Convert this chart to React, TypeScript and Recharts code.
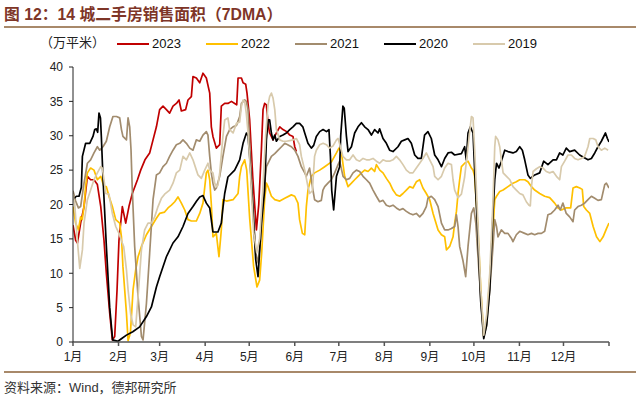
import React from "react"
import { LineChart, Line, XAxis, YAxis } from "recharts"

// day of year (0 = Jan 1), value in 万平米
const s2023: [number, number][] = [
  [0, 17], [1.8, 14.8], [3, 14.4], [5.2, 17.3], [7.5, 19.7], [9.8, 24.1], [12, 23.6], [14.3, 23.6],
  [16.6, 22.9], [18.9, 19.7], [21.1, 14.8], [22.7, 10], [25, 4.2], [26.8, 0.3], [28.4, 0.8], [30, 7.6],
  [31.3, 14.8], [33.6, 19.7], [35.9, 17.3], [38.1, 19.7], [40.4, 21.6], [43.9, 23.6], [46.1, 25],
  [49, 26.5], [52.2, 27.5], [54.5, 29.4], [56.8, 31.3], [59, 33.8], [61.3, 34.3], [63.6, 33.8],
  [65.8, 33.3], [68.1, 34.3], [70.4, 34.7], [72.2, 35.2], [73.8, 33.6], [76.7, 33.8], [78.3, 35.2],
  [80.6, 35.7], [81.7, 38.6], [84, 38.4], [86.3, 37.7], [88.5, 39.1], [90.8, 38.4], [93.1, 36.2],
  [94.2, 31.3], [95.3, 29.9], [97.6, 28.2], [99.9, 28.7], [101, 34.3], [103.3, 34.7], [105.5, 34.7],
  [107.9, 35], [110.1, 34.7], [111.5, 34.5], [112.4, 38.4], [114.7, 38.4], [115.8, 37.7], [117.6, 37.5],
  [118.5, 36.2], [120.3, 32.3], [122.4, 24], [124.9, 16.3], [126.5, 20], [128.3, 28], [129.4, 33.8],
  [130.5, 34.7], [131.7, 34.5], [132.8, 31.8], [133.9, 30.4], [136.2, 29.4], [138.5, 30.4], [140.8, 31.3],
  [143, 30.9], [145.5, 30.6], [147.6, 30.1], [149.8, 29.9], [151, 28.4], [152.1, 27.7],
]

const s2022: [number, number][] = [
  [0, 19.7], [1.8, 17.3], [3.7, 16.3], [5.2, 18.2], [6.3, 17.8], [7.5, 19.7], [8.6, 22.6], [9.8, 24.6],
  [12, 25.3], [14.3, 25], [16.6, 23.6], [18.9, 24.1], [21.1, 22.6], [22.7, 22.6], [24.5, 21.2],
  [26.8, 19.7], [29.1, 17.8], [31.8, 17.3], [33, 15.3], [34, 11], [36.4, 4.2], [37.5, 0.2], [39.1, 1.3],
  [40.9, 7.6], [42.7, 10.5], [44.3, 12.4], [46.6, 13.9], [50, 15.6], [53.4, 16.8], [56.8, 18], [59, 18.7],
  [62.4, 18.9], [64.7, 19.5], [67, 19.9], [69.3, 20.4], [71.5, 21.1], [73.8, 20.2], [76.1, 19.2],
  [78.3, 17.8], [80.6, 17.6], [84, 17.6], [86.3, 18.7], [88.5, 20.2], [89.7, 22.5], [90.8, 24.6],
  [91.9, 25], [93.1, 23.6], [94.2, 20], [95.3, 15.3], [97.6, 15.8], [99.4, 12.4], [101, 16.3],
  [102.1, 20.7], [104.5, 20.5], [109, 20.7], [112.4, 21.6], [113.5, 24.1], [114.7, 25.5], [116.9, 26.5],
  [118.3, 25], [120.3, 18], [123, 11], [125.3, 8], [127.1, 9], [128.5, 13], [130.5, 20.7], [131.7, 23.1],
  [132.8, 22.6], [135.1, 21.2], [137.4, 20.7], [140.8, 20.5], [144.2, 20.9], [148.7, 21.4], [151, 21.2],
  [153.2, 20.2], [154.3, 17.8], [156.2, 15.8], [157.8, 15.6], [158.9, 19.7], [160, 22.1], [162.3, 24.1],
  [164.5, 24.6], [168, 25], [171.4, 25.5], [176, 26.2], [179.4, 27.5], [181.1, 28.2], [182.8, 27.5],
  [185, 24.1], [187.3, 22.6], [189.6, 23.1], [191.8, 23.6], [194.1, 24.1], [196.4, 24.6], [198.6, 25],
  [200.9, 24.8], [203.2, 25.3], [205.4, 24.8], [206.6, 25.8], [208.9, 25], [211.1, 24.6], [213.4, 23.8],
  [215.7, 23.1], [217.9, 22.1], [220.2, 21.4], [222.5, 21.2], [224.7, 21.6], [227, 22.1], [229.3, 22.6],
  [231.5, 22.4], [233.8, 23.3], [236.1, 23.6], [238.3, 22.4], [240.6, 21.6], [242.9, 20.7], [245.2, 18.7],
  [248.6, 16.3], [250.9, 15.6], [253.1, 15.3], [254.3, 13.4], [256.5, 13.9], [258.8, 15.3], [259.9, 17.3],
  [261.1, 19], [262.2, 21.6], [263.3, 23.6], [264.5, 25.5], [266.7, 26], [269, 26.3], [271.3, 25.3],
  [272.4, 25], [273.5, 24.1], [275.6, 17], [277.6, 8], [279.7, 0.8], [281.7, 3], [284.9, 12.4],
  [287.2, 20.7], [288.4, 21.2], [290.6, 21.9], [292.9, 22.1], [296.2, 22.6], [299.6, 23.1], [301.9, 23.3],
  [304.2, 23.6], [307.6, 23.6], [309.8, 23.3], [312.2, 22.6], [314.4, 22.1], [317.8, 21.6], [321.2, 21.2],
  [324.6, 21], [328, 20.2], [330.3, 19.5], [332.6, 19.2], [335.5, 19.5], [338.9, 19.5], [340.5, 22.4],
  [342.8, 22.6], [345.1, 22.4], [346.8, 22.2], [347.8, 19.7], [349.6, 19.2], [351.9, 18.7], [354.2, 16.8],
  [356.5, 15.3], [358.8, 14.6], [361, 15.3], [363.3, 16.5], [365, 17.3],
]

const s2021: [number, number][] = [
  [0, 22], [1.8, 20.5], [3.7, 19.5], [5.2, 19.7], [7.5, 23.1], [9.8, 26], [12, 26.5], [14.3, 27.5],
  [16.6, 28.4], [18.2, 27.9], [20.4, 28.4], [22.7, 29.2], [25, 31.3], [27.2, 32.8], [29.6, 32.8],
  [31.8, 32.6], [33, 30.9], [34, 29.9], [36.4, 29.4], [37.5, 32.6], [38.6, 31.3], [39.5, 28], [40.3, 22.6],
  [42, 13.9], [44.3, 6.6], [46.6, 0.8], [47.7, 0.3], [50, 5.6], [52.2, 12.9], [54.5, 20.7], [56.8, 24.3],
  [59, 24.6], [61.3, 25.5], [63.6, 26], [65.8, 27], [68.1, 27.9], [70.4, 28.7], [72.7, 28.9], [74.9, 29.4],
  [77.2, 28.9], [79.5, 28.2], [81.7, 27.9], [84, 29.4], [86.3, 29.2], [88.5, 30.1], [90.8, 30.6],
  [91.9, 30.1], [93.1, 27], [94.2, 24.6], [95.3, 23.1], [96.5, 22.1], [97.6, 22.4], [99.9, 24.1],
  [102.1, 27], [104.5, 29.9], [106.7, 30.9], [109, 31.3], [111.3, 31.5], [113.5, 32.8], [114.7, 34.7],
  [116.9, 35.2], [118, 35], [119.2, 33.8], [120.3, 28.9], [122.4, 20], [124.4, 13], [126.1, 11.5],
  [127.8, 15], [129.9, 22], [131.7, 25.5], [135.1, 27], [137.4, 27.4], [139.7, 27.9], [142, 28.4],
  [144.2, 28.9], [146.2, 28.7], [148.7, 28.4], [151, 27.9], [153.2, 27], [155.5, 25.5], [157.8, 24.6],
  [158.9, 24.1], [161.1, 25.3], [163.4, 22.1], [164.5, 20.7], [166.8, 20.4], [169.1, 20.6], [170.2, 22.1],
  [171.4, 22.6], [173.6, 23.1], [175.9, 23.6], [178.2, 24.6], [180.5, 25.8], [181.6, 26.3], [183.9, 24.1],
  [186.2, 23.6], [188.4, 23.8], [190.7, 24.6], [193, 25], [195.2, 24.8], [197.5, 24.1], [199.8, 23.6],
  [202, 23.1], [204.3, 22.1], [206.6, 21.2], [208.8, 20.4], [211.1, 20.6], [213.4, 19.9], [215.6, 19.7],
  [217.9, 19.9], [220.2, 19.5], [222.4, 19.2], [224.7, 19.4], [227, 19], [229.3, 18.7], [231.5, 18.5],
  [233.8, 18.7], [236.1, 18.2], [238.3, 18.7], [240.6, 19.7], [241.7, 20.9], [244, 21.2], [246.3, 20.7],
  [248.6, 19.7], [250.9, 17.3], [253.1, 16.3], [255.4, 16.3], [257.7, 16.5], [259.9, 16.8], [261.1, 18.5],
  [262.2, 16.8], [263.3, 13.9], [265.5, 11.9], [267.4, 9.5], [269, 13.9], [271.3, 18.7], [272.9, 19.5],
  [274.3, 17.3], [275.8, 12.4], [278.1, 5.1], [279.7, 0.8], [281.5, 2.2], [283.8, 7.6], [286, 13.9],
  [287.2, 17.8], [288.4, 16.8], [289.4, 15.3], [291.7, 16.3], [294, 15.8], [296.2, 15.8], [298.5, 15.1],
  [299.6, 14.6], [301.9, 15.6], [304.2, 16.1], [307.6, 15.8], [309.8, 15.6], [312.2, 15.8], [314.4, 15.6],
  [316.7, 15.8], [319, 15.8], [321.2, 16.1], [322.3, 17.3], [323.4, 18.5], [325.7, 18.7], [328, 19.2],
  [330.3, 19.9], [331.8, 19.2], [333.6, 20.2], [335.9, 18.7], [338.2, 18.2], [340.5, 17.5], [341.6, 19.2],
  [343.9, 19.7], [346.2, 19.9], [348.4, 20.2], [350.7, 20.7], [353, 21.2], [355.3, 20.9], [357.5, 20.6],
  [359.8, 20.7], [362.1, 22.9], [363.2, 23.1], [365, 22.4],
]

const s2020: [number, number][] = [
  [0, 20.7], [2.3, 21.2], [4.1, 21.2], [5.7, 22.5], [6.4, 27], [8.6, 28.9], [11.4, 28.9], [13.6, 29.9],
  [14.8, 30.9], [15.9, 31], [16.8, 30.5], [17.7, 33.3], [18.7, 32.6], [19.3, 29.9], [20.4, 24], [22.7, 14],
  [25, 5], [27, 0.3], [30.6, 0.1], [33.2, 0.5], [36.4, 1], [40.7, 1.5], [45.4, 2.2], [50, 3.7], [53.4, 5.1],
  [56.8, 8], [59, 9.5], [63.6, 12.4], [68.1, 14.4], [71.5, 15.3], [74.9, 16.8], [78.3, 18.7], [81.7, 19.7],
  [84.2, 20.5], [86.3, 21.1], [88.5, 21.3], [90.8, 20.2], [93.1, 19.5], [95.3, 16], [98.7, 16], [101, 17.3],
  [102.1, 19.5], [103.3, 21.6], [105.5, 24], [110.1, 25], [113.5, 26.5], [115.8, 28.9], [118.1, 30.4],
  [119.2, 30], [120.3, 27], [122.4, 20], [124.4, 12], [126, 9.5], [128.3, 17.3], [130.5, 22.1],
  [131.7, 29.4], [132.9, 32.3], [133.9, 32.3], [135.1, 30.4], [136.2, 29.4], [137.4, 30.1], [138.5, 29.2],
  [140.8, 29.9], [143, 30.1], [145.3, 30.4], [147.6, 30.9], [149.8, 31.3], [152.1, 31.8], [154.3, 31.8],
  [156.5, 31.3], [157.8, 30.4], [160, 28.9], [162.3, 28.2], [163.9, 28.6], [165.7, 29.9], [168, 30.6],
  [170.3, 30.9], [172.6, 30.6], [174.3, 30.9], [175.3, 27], [176.2, 22], [177.5, 19.2], [179.4, 24.1],
  [181.6, 25.5], [182.3, 30], [183.8, 34.3], [184.7, 34], [186.2, 29.9], [187.3, 27.7], [189.6, 28.4],
  [191.8, 30.4], [194.1, 31.3], [196.4, 31.9], [198.6, 31.3], [200.9, 30.9], [203.2, 30.1], [205.4, 30.9],
  [207.7, 30.4], [208.8, 31], [211.1, 29.6], [213.4, 28.9], [215.6, 27.9], [217.9, 27.7], [221.3, 28.4],
  [223.6, 29.2], [225.9, 29.4], [228.1, 29.6], [230.4, 28.9], [232.7, 27.2], [234.9, 26.7], [237.2, 26.7],
  [239.4, 30.1], [241.7, 30.6], [244, 29.6], [246.3, 27.2], [248.6, 26.5], [250.9, 25.5], [253.1, 26.7],
  [255.4, 27.5], [257.7, 27.6], [259.9, 27.2], [264.5, 27.4], [266.7, 28.4], [267.8, 26.5], [269, 30.4],
  [270.6, 31.3], [272.4, 30.4], [273.5, 25], [275.6, 16], [277.6, 6], [279.7, 0.5], [281.7, 2.5],
  [283.8, 7.6], [286, 18.8], [287.2, 23.6], [288.4, 26], [290.1, 25.3], [291.7, 26.3], [294, 27.9],
  [296.2, 27.7], [299.6, 27.5], [301.9, 27.7], [304.2, 28.4], [306, 27.9], [307.6, 26.5], [309.8, 24.3],
  [311.4, 23.8], [314.4, 24.3], [317.8, 24.6], [320.5, 26.3], [323.4, 25.8], [326.9, 26.5], [329.2, 26.5],
  [331.4, 27.5], [333.6, 27.2], [335.9, 28.2], [338.2, 27.7], [341.6, 27.9], [345, 27.2], [347.3, 26.9],
  [350.7, 26.5], [353, 26.7], [355.3, 27.5], [357.5, 28.4], [359.8, 29.2], [362.6, 30.4], [363.9, 29.6],
  [365, 29.1],
]

const s2019: [number, number][] = [
  [0, 21.5], [1.2, 20], [2.5, 16], [4.6, 10.7], [6.4, 13.4], [7.5, 17.3], [9.8, 20.7], [12, 22.1],
  [14.3, 23.6], [16.6, 24.6], [18.9, 25.5], [20, 25.3], [21.1, 23.6], [22.3, 21.6], [24.5, 21.5],
  [26.8, 18.7], [29.1, 16.8], [31.3, 15.8], [33.6, 14.4], [34.5, 13.9], [36.4, 10.5], [37.5, 7.6],
  [39.3, 4], [40.9, 2.5], [42.7, 2.2], [44.3, 6.6], [46.6, 13.4], [48.8, 16.3], [51.1, 17.3], [53.4, 17.3],
  [55.6, 18.2], [57.9, 19.7], [60.2, 20.9], [62.4, 21.5], [65.8, 22.1], [68.1, 23.1], [70.4, 24.6],
  [72.7, 25], [74.9, 27], [77.2, 26.5], [79.5, 27.5], [81.7, 26.5], [84, 25], [85.1, 24.3], [87.4, 23.8],
  [89.7, 25], [91.9, 26], [93.1, 25], [95.3, 24.6], [96.5, 23.1], [97.6, 22.6], [98.7, 22.8], [99.9, 24.6],
  [102.1, 29.9], [103.3, 32.3], [105.5, 32.6], [106.7, 30.9], [109, 30.4], [111.3, 31.8], [113.5, 32],
  [114.7, 34.3], [115.8, 35.2], [116.9, 35], [118, 33.3], [119.2, 30.5], [121, 24], [123, 16], [125.1, 13],
  [127.1, 15], [129.2, 22], [131.2, 30], [132.8, 34.5], [133.9, 35.7], [135.1, 36.2], [136.2, 35.5],
  [137.4, 33.8], [138.5, 30.9], [140.8, 29.4], [143, 29.2], [145.3, 29.2], [147.6, 29.3], [149.8, 29.4],
  [152.1, 29.6], [154.3, 28.7], [155.5, 27], [157.8, 25], [160, 22.6], [161.1, 21.6], [163, 22],
  [164.5, 27], [165.7, 27.9], [168, 28.7], [170.3, 28.9], [172.6, 28.7], [174.7, 28.2], [177, 28.5],
  [179.4, 29.4], [180.5, 29.6], [181.6, 28.8], [183.8, 27], [186.2, 26.5], [188.4, 26.5], [190.7, 27.2],
  [193, 26.5], [195.2, 26.3], [197.5, 26.7], [199.8, 26.5], [202, 26.5], [204.3, 26.7], [206.6, 26.3],
  [208.8, 26], [211.1, 26.5], [213.4, 26.3], [215.6, 26.3], [217.9, 26.5], [220.2, 27], [222.4, 26.5],
  [224.7, 25.8], [227, 25], [229.3, 24.6], [231.5, 24.6], [233.8, 25.3], [236.1, 26], [238.3, 26.7],
  [240.6, 27.5], [242.9, 26.5], [245.2, 25.5], [246.3, 24.1], [248.6, 23.6], [250.9, 24.1], [253.1, 25.3],
  [255.4, 26], [257.7, 25.8], [258.8, 23.6], [259.9, 22.1], [262.2, 21], [264.5, 21.5], [266.7, 24],
  [269, 28.4], [271.3, 32.8], [272.4, 32.6], [273.5, 28], [275.6, 18], [277.6, 8], [279.7, 1], [281.7, 4],
  [283.8, 10], [285.9, 20], [287.2, 28.4], [287.8, 29.9], [289.4, 29.4], [290.6, 28.4], [291.7, 26.5],
  [292.9, 24.6], [295.2, 24.1], [297.5, 23.6], [299.6, 22.6], [301.9, 22.1], [304.2, 21.6], [306.4, 21.4],
  [308.7, 20.4], [310.5, 19.9], [311.4, 19.8], [312.2, 22.6], [313.3, 24.8], [315.6, 25.2], [317.8, 25.5],
  [320.1, 25.3], [322.3, 24.8], [324.6, 24.6], [326.9, 24.8], [329.2, 24.1], [331.4, 23.6], [332.6, 25.5],
  [334.8, 26.3], [337.1, 27.2], [339.4, 27.2], [341.6, 26.7], [343.9, 26.5], [346.2, 26.7], [348.4, 27],
  [350.7, 28.4], [351.9, 29.6], [354.2, 29.6], [356, 29.4], [357.5, 28.4], [359.8, 27.9], [362.1, 28.2],
  [364.4, 27.9],
]

const monthTicks = [0, 31, 59, 90, 120, 151, 181, 212, 243, 273, 304, 334, 365]
const monthLabels = ["1月", "2月", "3月", "4月", "5月", "6月", "7月", "8月", "9月", "10月", "11月", "12月", ""]
const yTicks = [0, 5, 10, 15, 20, 25, 30, 35, 40]

const series = [
  { name: "2023", data: s2023, color: "#C00000" },
  { name: "2022", data: s2022, color: "#FFC000" },
  { name: "2021", data: s2021, color: "#A28C6E" },
  { name: "2020", data: s2020, color: "#000000" },
  { name: "2019", data: s2019, color: "#D8CAAC" },
]

const FONT = '"Liberation Sans", "Noto Sans CJK SC", sans-serif'

export default function App() {
  return (
    <div
      style={{
        position: "absolute",
        left: 0,
        top: 0,
        width: 640,
        height: 402,
        background: "#fff",
        fontFamily: FONT,
        overflow: "hidden",
      }}
    >
      <div
        style={{
          position: "absolute",
          left: 4,
          top: 2,
          fontSize: 15.8,
          fontWeight: "bold",
          color: "#7E3527",
          whiteSpace: "nowrap",
        }}
      >
        图 12：14 城二手房销售面积（7DMA）
      </div>
      <div style={{ position: "absolute", left: 4, right: 4, top: 26, height: 2, background: "#A8896A" }} />
      <div style={{ position: "absolute", left: 40, top: 32, fontSize: 13, color: "#222" }}>（万平米）</div>
      {series.map((s, i) => (
        <div
          key={s.name}
          style={{ position: "absolute", left: 117 + i * 89, top: 36, display: "flex", alignItems: "center" }}
        >
          <div style={{ width: 32, height: 2, background: s.color }} />
          <span style={{ marginLeft: 3, fontSize: 13, color: "#111" }}>{s.name}</span>
        </div>
      ))}

      <div style={{ position: "absolute", left: 0, top: 0 }}>
        <LineChart width={640} height={402} margin={{ top: 67, right: 31, left: 33, bottom: 30 }}>
          <XAxis
            type="number"
            dataKey="d"
            domain={[0, 365]}
            ticks={monthTicks}
            tickFormatter={(v: number) => monthLabels[monthTicks.indexOf(v)]}
            interval={0}
            height={30}
            tickSize={4}
            tickMargin={6}
            stroke="#555"
            strokeWidth={1.5}
            tick={{ fontSize: 12, fill: "#222", fontFamily: FONT }}
            allowDataOverflow
          />
          <YAxis
            type="number"
            domain={[0, 40]}
            ticks={yTicks}
            interval={0}
            width={40}
            tickSize={4}
            tickMargin={6}
            stroke="#222"
            tick={{ fontSize: 12, fill: "#222", fontFamily: FONT }}
          />
          {series.map((s) => (
            <Line
              key={s.name}
              data={s.data.map(([d, v]) => ({ d, v }))}
              dataKey="v"
              stroke={s.color}
              strokeWidth={1.7}
              dot={false}
              activeDot={false}
              isAnimationActive={false}
              strokeLinejoin="round"
            />
          ))}
        </LineChart>
      </div>

      <div style={{ position: "absolute", left: 4, right: 4, top: 371, height: 2, background: "#A8896A" }} />
      <div style={{ position: "absolute", left: 4, top: 377, fontSize: 13, color: "#333" }}>
        资料来源：Wind，德邦研究所
      </div>
    </div>
  )
}
